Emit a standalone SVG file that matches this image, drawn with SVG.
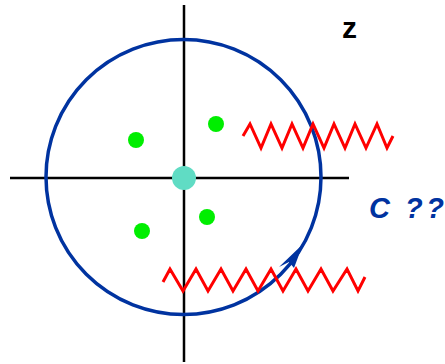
<svg xmlns="http://www.w3.org/2000/svg" width="445" height="364" viewBox="0 0 445 364">
<style>
.axis{stroke:#000;stroke-width:2.5;fill:none}
.wave{stroke:#ff0000;stroke-width:3;fill:none;stroke-linejoin:miter}
.ring{stroke:#0033a0;stroke-width:3.5;fill:none}
.pole{fill:#00ee00}
.lbl{font-family:"Liberation Sans",Arial,sans-serif;font-weight:bold}
</style>
<rect width="445" height="364" fill="#fff"/>
<g id="axes">
<line class="axis" x1="10" y1="178" x2="349" y2="178"/>
<line class="axis" x1="184" y1="5" x2="184" y2="362"/>
</g>
<g id="contour">
<circle class="ring" cx="183.5" cy="177" r="137.5"/>
<polygon fill="#0033a0" points="303,244 279,267 289,262 294,268"/>
</g>
<g id="poles">
<circle class="pole" cx="136" cy="140" r="8"/>
<circle class="pole" cx="216" cy="124" r="8"/>
<circle class="pole" cx="142" cy="231" r="8"/>
<circle class="pole" cx="207" cy="217" r="8"/>
<circle cx="184" cy="178" r="12" fill="#60dcc4"/>
</g>
<g id="cuts">
<path class="wave" d="M243,136 L250,124 L261,148 L271,124 L282,148 L292,124 L303,148 L313,124 L324,148 L334,124 L345,148 L355,124 L366,148 L377,124 L387,148 L393,136"/>
<path class="wave" d="M163,282 L170,269 L183,291 L196,269 L208,291 L221,269 L233,291 L246,269 L258,291 L271,269 L283,291 L296,269 L308,291 L321,269 L333,291 L347,269 L358,291 L365,277"/>
</g>
<text class="lbl" x="369" y="218" font-size="29" font-style="italic" letter-spacing="3.5" fill="#0033a0">C ??</text>
<text class="lbl" x="342" y="38" font-size="30" fill="#000">z</text>
</svg>
